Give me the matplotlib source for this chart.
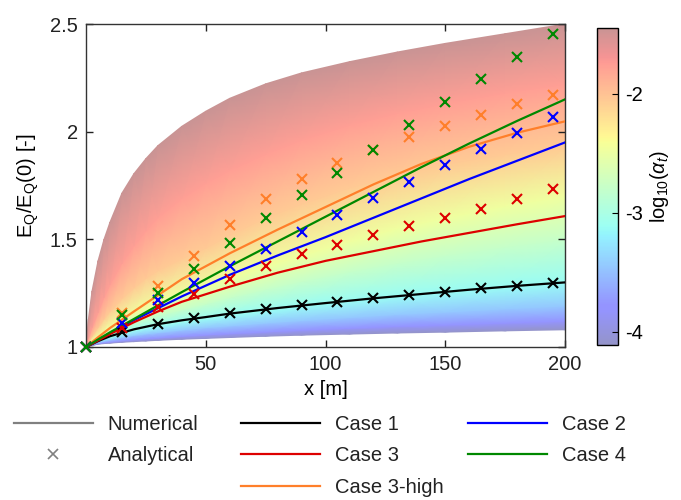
import numpy as np
import matplotlib
matplotlib.use("Agg")
import matplotlib.pyplot as plt
from matplotlib.colors import ListedColormap, Normalize
from matplotlib.lines import Line2D

plt.rcParams["font.family"] = ["Liberation Sans", "DejaVu Sans"]
plt.rcParams["mathtext.fontset"] = "custom"
plt.rcParams["mathtext.rm"] = "Liberation Sans"
plt.rcParams["mathtext.it"] = "Liberation Sans:italic"
plt.rcParams["axes.unicode_minus"] = False
FS = 14.5

# ---- numerical band: E_Q/E_Q(0) curves for several log10(alpha_t) levels ----
x_num = [0, 1, 2.5, 5, 7.5, 10, 15, 20, 25, 30, 40, 50, 60, 75, 90, 110, 130, 150, 175, 200]
log_alpha = [-4.11, -3.8, -3.45, -3.13, -2.8, -2.47, -2.06, -1.77, -1.45]
num_L0 = [1, 1.004, 1.007, 1.013, 1.016, 1.018, 1.022, 1.025, 1.028, 1.031,
          1.036, 1.04, 1.044, 1.05, 1.055, 1.06, 1.065, 1.069, 1.075, 1.08]
num_L1 = [1, 1.005, 1.009, 1.016, 1.02, 1.023, 1.029, 1.034, 1.038, 1.042,
          1.049, 1.056, 1.062, 1.07, 1.078, 1.087, 1.096, 1.102, 1.111, 1.12]
num_L2 = [1, 1.006, 1.013, 1.022, 1.028, 1.033, 1.044, 1.054, 1.061, 1.067,
          1.079, 1.09, 1.098, 1.111, 1.123, 1.137, 1.151, 1.162, 1.177, 1.19]
num_L3 = [1, 1.007, 1.017, 1.028, 1.037, 1.045, 1.06, 1.075, 1.086, 1.096,
          1.114, 1.13, 1.146, 1.167, 1.188, 1.212, 1.235, 1.255, 1.278, 1.30]
num_L4 = [1, 1.009, 1.022, 1.036, 1.051, 1.065, 1.09, 1.112, 1.13, 1.146,
          1.172, 1.2, 1.229, 1.268, 1.305, 1.35, 1.39, 1.425, 1.465, 1.5]
num_L5 = [1, 1.012, 1.03, 1.048, 1.07, 1.09, 1.125, 1.157, 1.182, 1.204,
          1.245, 1.28, 1.32, 1.375, 1.425, 1.49, 1.55, 1.60, 1.655, 1.70]
num_L6 = [1, 1.02, 1.05, 1.09, 1.13, 1.165, 1.225, 1.275, 1.32, 1.355,
          1.41, 1.46, 1.52, 1.60, 1.665, 1.74, 1.80, 1.85, 1.895, 1.935]
num_L7 = [1, 1.04, 1.09, 1.16, 1.23, 1.29, 1.39, 1.47, 1.54, 1.60,
          1.69, 1.76, 1.82, 1.895, 1.96, 2.03, 2.085, 2.13, 2.18, 2.22]
num_L8 = [1, 1.13, 1.26, 1.40, 1.50, 1.58, 1.715, 1.805, 1.875, 1.935,
          2.025, 2.095, 2.155, 2.222, 2.273, 2.325, 2.37, 2.41, 2.455, 2.50]
num_curves = [num_L0, num_L1, num_L2, num_L3, num_L4, num_L5, num_L6, num_L7, num_L8]

# ---- analytical solution lines ----
x_line = [0, 5, 10, 20, 30, 40, 50, 60, 80, 100, 120, 140, 160, 180, 200]
case1_line = [1, 1.027, 1.05, 1.082, 1.106, 1.124, 1.139, 1.155, 1.181, 1.204, 1.226, 1.246, 1.266, 1.284, 1.30]
case2_line = [1, 1.033, 1.065, 1.125, 1.18, 1.235, 1.285, 1.335, 1.425, 1.51, 1.6, 1.69, 1.78, 1.865, 1.95]
case3_line = [1, 1.03, 1.06, 1.115, 1.165, 1.21, 1.245, 1.28, 1.345, 1.40, 1.445, 1.49, 1.53, 1.57, 1.608]
case4_line = [1, 1.035, 1.068, 1.13, 1.193, 1.255, 1.315, 1.375, 1.49, 1.605, 1.72, 1.835, 1.945, 2.05, 2.15]
case3h_line = [1, 1.045, 1.088, 1.165, 1.24, 1.315, 1.375, 1.435, 1.545, 1.65, 1.755, 1.85, 1.93, 1.995, 2.048]

# ---- markers ----
x_mark = [0, 15, 30, 45, 60, 75, 90, 105, 120, 135, 150, 165, 180, 195]
case1_mark = [1, 1.07, 1.106, 1.133, 1.156, 1.176, 1.194, 1.21, 1.227, 1.24, 1.256, 1.273, 1.285, 1.298]
case2_mark = [1, 1.11, 1.218, 1.298, 1.375, 1.454, 1.534, 1.614, 1.69, 1.768, 1.845, 1.92, 1.992, 2.066]
case3_mark = [1, 1.09, 1.187, 1.245, 1.316, 1.375, 1.434, 1.475, 1.52, 1.56, 1.60, 1.64, 1.685, 1.735]
case4_mark = [1, 1.148, 1.25, 1.364, 1.483, 1.6, 1.708, 1.81, 1.917, 2.03, 2.14, 2.244, 2.349, 2.452]
case3h_mark = [1, 1.156, 1.282, 1.423, 1.565, 1.685, 1.78, 1.853, 1.915, 1.974, 2.026, 2.079, 2.128, 2.171]

colors = {"Case 1": "black", "Case 2": "#0000ff", "Case 3": "#dd0000",
          "Case 4": "#008800", "Case 3-high": "#ff7f2a"}
lines = [("Case 1", case1_line), ("Case 2", case2_line), ("Case 3", case3_line),
         ("Case 3-high", case3h_line), ("Case 4", case4_line)]
marks = [("Case 1", case1_mark), ("Case 3", case3_mark), ("Case 3-high", case3h_mark),
         ("Case 2", case2_mark), ("Case 4", case4_mark)]

# pale jet colormap (jet over white)
a = 0.42
jet = plt.get_cmap("jet")(np.linspace(0, 1, 256))
pale = jet.copy()
pale[:, :3] = jet[:, :3] * a + (1 - a)
cmap = ListedColormap(pale)
norm = Normalize(vmin=log_alpha[0], vmax=log_alpha[-1])

fig = plt.figure(figsize=(6.81, 5), dpi=100)
ax = fig.add_axes([0.1263, 0.306, 0.7034, 0.646])

X = np.tile(np.array(x_num, dtype=float), (len(log_alpha), 1))
Y = np.array(num_curves)
Z = np.repeat(np.array(log_alpha)[:, None], len(x_num), axis=1)
mesh = ax.pcolormesh(X, Y, Z, shading="gouraud", cmap=cmap, norm=norm, zorder=1)

for name, yl in lines:
    ax.plot(x_line, yl, color=colors[name], lw=1.6, zorder=3)
for name, ym in marks:
    ax.plot(x_mark, ym, ls="none", marker="x", ms=6.5, mew=1.5, color=colors[name],
            zorder=4, clip_on=False)

ax.set_xlim(0, 200)
ax.set_ylim(1, 2.5)
ax.set_xticks([50, 100, 150, 200])
ax.set_yticks([1, 1.5, 2, 2.5])
ax.set_yticklabels(["1", "1.5", "2", "2.5"])
ax.tick_params(direction="in", top=True, right=True, length=5, width=1,
               labelsize=FS, pad=6, colors="#222222", labelcolor="#222222")
for s in ax.spines.values():
    s.set_linewidth(1)
    s.set_color("#333333")
ax.set_xlabel("x [m]", fontsize=FS, labelpad=4)
ax.set_ylabel(r"E$_\mathrm{Q}$/E$_\mathrm{Q}$(0) [-]", fontsize=FS, labelpad=6)

cax = fig.add_axes([0.8767, 0.31, 0.0308, 0.634])
cb = fig.colorbar(mesh, cax=cax)
cb.set_ticks([-4, -3, -2])
cb.ax.tick_params(direction="in", length=4, labelsize=FS, pad=5)
cb.outline.set_linewidth(1)
cb.set_label(r"log$_{10}$($\alpha_t$)", fontsize=FS, labelpad=4)

# legend (three columns, MATLAB style equal widths)
col1 = [(Line2D([], [], color="#808080", lw=1.6), "Numerical"),
        (Line2D([], [], ls="none", marker="x", ms=7, mew=1.2, color="#808080"), "Analytical")]
col2 = [(Line2D([], [], color=colors["Case 1"], lw=1.6), "Case 1"),
        (Line2D([], [], color=colors["Case 3"], lw=1.6), "Case 3"),
        (Line2D([], [], color=colors["Case 3-high"], lw=1.6), "Case 3-high")]
col3 = [(Line2D([], [], color=colors["Case 2"], lw=1.6), "Case 2"),
        (Line2D([], [], color=colors["Case 4"], lw=1.6), "Case 4")]
for i, col in enumerate([col1, col2, col3]):
    x0 = [14, 241, 468][i] / 681
    fig.legend([h for h, l in col], [l for h, l in col], loc="upper left",
               bbox_to_anchor=(x0, 1 - 415 / 500), frameon=False, fontsize=FS,
               handlelength=3.9, handletextpad=0.75, labelspacing=0.62,
               borderpad=0, borderaxespad=0, numpoints=1, labelcolor="#222222")

fig.savefig("out.png", dpi=100)
